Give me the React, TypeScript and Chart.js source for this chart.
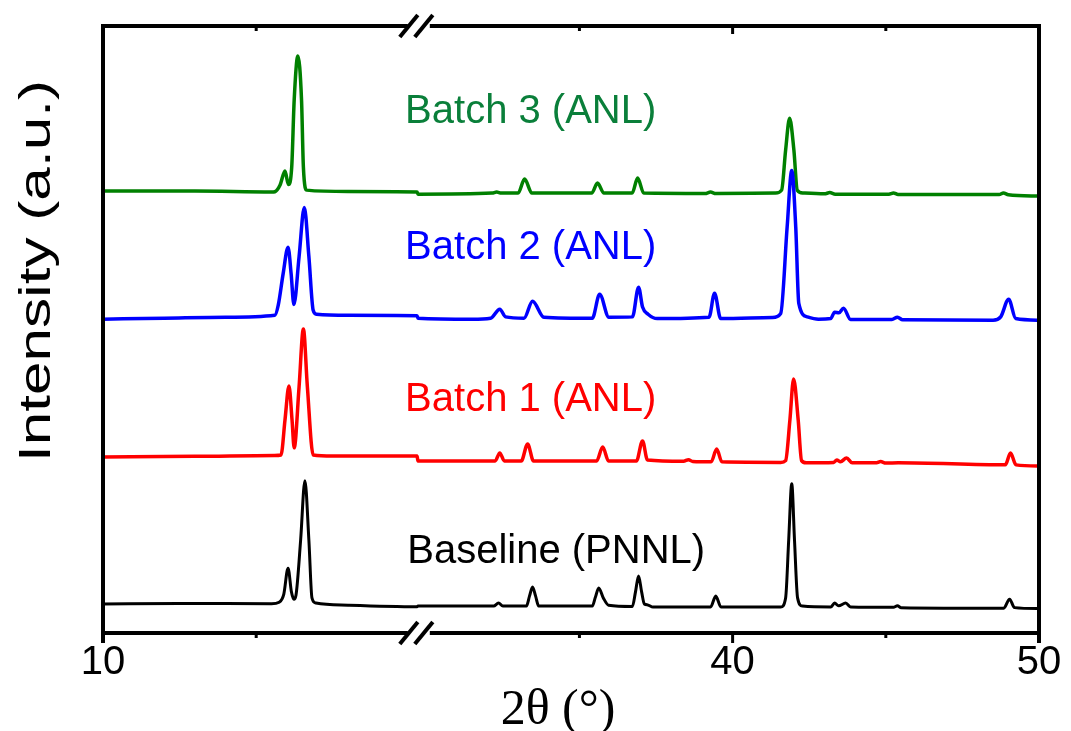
import React, { useEffect, useRef } from "react";
import { Chart, registerables } from "chart.js";

Chart.register(...registerables);

// ---- data: [2θ (deg), intensity relative to the pattern's own baseline] ----
const BASELINE_PNNL: [number, number][] = [
  [10.0, 0], [12.5, 0.1], [15.5, 0.05], [15.75, 0.3], [15.9, 1.6], [16.04, 5.9], [16.15, 2.0], [16.23, 0.8],
  [16.3, 1.5], [16.45, 10.5], [16.59, 20.3], [16.72, 10.5], [16.82, 1.0], [16.95, 0.15], [18.0, -0.2], [20.25, -0.45],
  [29.73, -0.35], [31.5, -0.35], [32.2, -0.35], [32.36, 0.15], [32.5, -0.35], [33.27, -0.35], [33.37, 1.3],
  [33.47, 2.8], [33.57, 1.3], [33.67, -0.35], [35.42, -0.35], [35.52, 1.1], [35.63, 2.65], [35.78, 1.0],
  [35.95, -0.2], [36.73, -0.4], [36.83, 2.0], [36.93, 4.6], [37.03, 2.0], [37.12, 0.0], [37.23, -0.15],
  [37.4, -0.5], [39.28, -0.5], [39.45, 1.3], [39.62, -0.5], [41.57, -0.5], [41.73, 1.0], [41.83, 10.5],
  [41.93, 19.8], [42.02, 10.5], [42.12, 1.0], [42.28, -0.35], [43.2, -0.5], [43.33, 0.15], [43.46, -0.3],
  [43.69, 0.15], [43.85, -0.5], [45.25, -0.55], [45.38, -0.3], [45.5, -0.6], [48.85, -0.7], [49.04, 0.8],
  [49.2, -0.6], [50.0, -0.75],
];

const BATCH1_ANL: [number, number][] = [
  [10.0, 0], [13.0, 0.1], [15.6, 0.25], [15.81, 0.33], [15.94, 6.1], [16.07, 11.7], [16.17, 6.1], [16.24, 1.5],
  [16.4, 11.6], [16.54, 21.1], [16.67, 11.6], [16.86, 0.33], [17.5, 0.16], [20.25, 0.16],
  [29.73, -0.66], [32.25, -0.66], [32.4, 0.66], [32.55, -0.66], [33.1, -0.66], [33.31, 2.14], [33.5, -0.66],
  [35.56, -0.66], [35.76, 1.65], [35.95, -0.66], [36.86, -0.66], [37.06, 2.64], [37.22, -0.5], [38.4, -0.7],
  [38.56, -0.45], [38.7, -0.75], [39.3, -0.8], [39.48, 1.32], [39.65, -0.8], [41.57, -0.9], [41.73, -0.6],
  [41.87, 6.1], [41.99, 12.85], [42.14, 6.1], [42.25, -0.6], [42.4, -0.95], [43.3, -0.9], [43.4, -0.5],
  [43.52, -0.8], [43.72, -0.16], [43.9, -0.95], [44.7, -0.95], [44.83, -0.75], [45.0, -1.0], [45.41, -0.95],
  [48.9, -1.3], [49.07, 0.66], [49.25, -1.3], [50.0, -1.48],
];

const BATCH2_ANL: [number, number][] = [
  [10.0, 0], [12.0, 0.16], [14.0, 0.33], [15.61, 0.66], [15.72, 2.3], [15.88, 7.5], [16.04, 11.86], [16.14, 7.5],
  [16.23, 2.4], [16.4, 10.3], [16.57, 18.4], [16.72, 10.3], [16.86, 1.48], [16.97, 0.82], [18.0, 0.66], [20.25, 0.58],
  [29.73, 0.16], [31.5, 0], [32.1, 0.16], [32.4, 1.65], [32.59, 0.38], [33.19, 0.16], [33.47, 2.97], [33.84, 0.33],
  [35.42, 0.16], [35.66, 4.1], [35.96, 0.33], [36.73, 0.38], [36.93, 5.27], [37.06, 2.0], [37.24, 0.82],
  [37.54, 0.1], [39.23, 0.33], [39.41, 4.28], [39.61, 0.1], [41.3, 0.28], [41.57, 0.94], [41.78, 15.2],
  [41.93, 24.5], [42.06, 15.2], [42.16, 2.6], [42.44, 0.38], [42.8, 0], [43.2, 0.1], [43.33, 1.15], [43.47, 1.04],
  [43.62, 1.81], [43.85, -0.05], [45.2, -0.05], [45.38, 0.33], [45.55, -0.1], [48.5, -0.16], [48.75, 0.38],
  [49.01, 3.3], [49.24, 0.1], [50.0, -0.16],
];

const BATCH3_ANL: [number, number][] = [
  [10.0, 0], [13.0, 0], [15.5, -0.16], [15.61, -0.1], [15.78, 1.0], [15.94, 3.3], [16.05, 1.1], [16.16, 4.0],
  [16.24, 15.0], [16.36, 22.24], [16.48, 15.0], [16.54, 4.0], [16.65, 0.16], [18.0, -0.08], [20.25, -0.16],
  [29.73, -0.5], [32.15, -0.33], [32.3, -0.16], [32.45, -0.33], [33.0, -0.33], [33.21, 1.98], [33.45, -0.33],
  [35.4, -0.33], [35.59, 1.32], [35.8, -0.33], [36.72, -0.33], [36.9, 2.14], [37.1, -0.33], [39.1, -0.4],
  [39.28, -0.16], [39.45, -0.4], [41.4, -0.33], [41.6, 0.16], [41.73, 6.75], [41.86, 12.0], [42.0, 6.75],
  [42.11, 0.16], [42.3, -0.3], [43.0, -0.45], [43.17, -0.25], [43.35, -0.5], [45.1, -0.5], [45.25, -0.3],
  [45.4, -0.55], [48.7, -0.55], [48.84, -0.3], [49.0, -0.6], [50.0, -0.82],
];

const SERIES_NAMES = ["Baseline (PNNL)", "Batch 1 (ANL)", "Batch 2 (ANL)", "Batch 3 (ANL)"];
const SERIES_OFFSETS = [4.78, 29.0, 51.7, 72.8];
const SERIES_COLORS = ["#000000", "#ff0000", "#0000ff", "#008000"];
const LABEL_COLORS = ["#000000", "#ff0000", "#0000ff", "#0a7f3a"];
// label anchor (left edge) in 2θ and intensity units
const LABEL_THETA = [19.93, 19.86, 19.86, 19.86];
const LABEL_LEVEL = [13.4, 38.4, 63.4, 85.8];

// broken axis: 20–30° is cut out
const BREAK_LO = 20;
const BREAK_HI = 30;
const BREAK_GAP = 0.55;
const X_TICKS = [10, 15, 35, 40, 45, 50];
const X_MAJOR = [10, 40, 50];

const toAxis = (t: number) => (t <= (BREAK_LO + BREAK_HI) / 2 ? t : t - (BREAK_HI - BREAK_LO) + BREAK_GAP);
const fromAxis = (u: number) => (u <= BREAK_LO + BREAK_GAP / 2 ? u : u + (BREAK_HI - BREAK_LO) - BREAK_GAP);

const SANS = "'Liberation Sans', Arial, sans-serif";

const decorPlugin = {
  id: "decor",
  afterDraw(chart: any) {
    const { ctx, chartArea: a } = chart;
    const xs = chart.scales.x;
    const ys = chart.scales.y;
    const px = (t: number) => xs.getPixelForValue(toAxis(t));
    const bc = (px(BREAK_LO) + px(BREAK_HI)) / 2;
    ctx.save();
    ctx.strokeStyle = "#000";
    ctx.lineCap = "butt";
    const seg = (x1: number, y1: number, x2: number, y2: number, w: number) => {
      ctx.lineWidth = w;
      ctx.beginPath();
      ctx.moveTo(x1, y1);
      ctx.lineTo(x2, y2);
      ctx.stroke();
    };
    // frame
    seg(a.left, a.top - 2, a.left, a.bottom + 10, 4);
    seg(a.right, a.top - 2, a.right, a.bottom + 10, 4);
    for (const yy of [a.top, a.bottom]) {
      seg(a.left, yy, bc - 10, yy, 4);
      seg(bc + 12, yy, a.right, yy, 4);
      for (const dx of [-9, 6]) seg(bc + dx - 9, yy + 11, bc + dx + 9, yy - 11, 4);
    }
    // ticks
    for (const t of X_TICKS) {
      if (t === 10 || t === 50) continue;
      const major = X_MAJOR.includes(t);
      const p = px(t);
      seg(p, a.bottom, p, a.bottom + (major ? 10 : 5), 3);
      seg(p, a.top, p, a.top + (major ? 8 : 5), 3);
    }
    // series labels
    ctx.font = `40px ${SANS}`;
    ctx.textAlign = "left";
    ctx.textBaseline = "middle";
    SERIES_NAMES.forEach((name, i) => {
      ctx.fillStyle = LABEL_COLORS[i];
      ctx.fillText(name, px(LABEL_THETA[i]), ys.getPixelForValue(LABEL_LEVEL[i]));
    });
    // axis titles
    ctx.fillStyle = "#000";
    ctx.textAlign = "center";
    ctx.font = `50px 'Liberation Serif', 'Times New Roman', serif`;
    ctx.fillText("2\u03b8 (\u00b0)", 558, 711);
    ctx.translate(38, 271);
    ctx.rotate(-Math.PI / 2);
    ctx.font = `44px ${SANS}`;
    const title = "Intensity (a.u.)";
    const w = ctx.measureText(title).width;
    ctx.scale(382 / w, 1);
    ctx.fillText(title, 0, 0);
    ctx.restore();
  },
};

export default function App() {
  const ref = useRef<HTMLCanvasElement>(null);
  useEffect(() => {
    const datasets = [BASELINE_PNNL, BATCH1_ANL, BATCH2_ANL, BATCH3_ANL].map((s, i) => ({
      label: SERIES_NAMES[i],
      data: s.map(([t, v]) => ({ x: toAxis(t), y: v + SERIES_OFFSETS[i] })),
      borderColor: SERIES_COLORS[i],
      borderWidth: i === 0 ? 3 : 3.5,
      pointRadius: 0,
      cubicInterpolationMode: "monotone" as const,
      fill: false,
    }));
    const chart = new Chart(ref.current!, {
      type: "line",
      data: { datasets },
      options: {
        animation: false,
        responsive: false,
        devicePixelRatio: 1,
        layout: { padding: { left: 0, right: 32, top: 26, bottom: 0 } },
        plugins: { legend: { display: false }, tooltip: { enabled: false } },
        scales: {
          x: {
            type: "linear",
            min: toAxis(10),
            max: toAxis(50),
            grid: { display: false, drawTicks: false },
            border: { display: false },
            afterFit: (s: any) => { s.height = 98; },
            afterBuildTicks: (s: any) => { s.ticks = X_TICKS.map((t) => ({ value: toAxis(t) })); },
            ticks: {
              autoSkip: false,
              maxRotation: 0,
              padding: 6,
              color: "#000",
              font: { family: SANS, size: 40 },
              callback: (v: any) => {
                const t = Math.round(fromAxis(Number(v)));
                return X_MAJOR.includes(t) ? String(t) : "";
              },
            },
          },
          y: {
            type: "linear",
            min: 0,
            max: 100,
            grid: { display: false },
            border: { display: false },
            ticks: { display: false },
            afterFit: (s: any) => { s.width = 103; },
          },
        },
      },
      plugins: [decorPlugin],
    });
    return () => chart.destroy();
  }, []);
  return (
    <div style={{ position: "absolute", left: 0, top: 0, width: 1071, height: 731, background: "#fff" }}>
      <canvas ref={ref} width={1071} height={731} style={{ display: "block", width: 1071, height: 731 }} />
    </div>
  );
}
